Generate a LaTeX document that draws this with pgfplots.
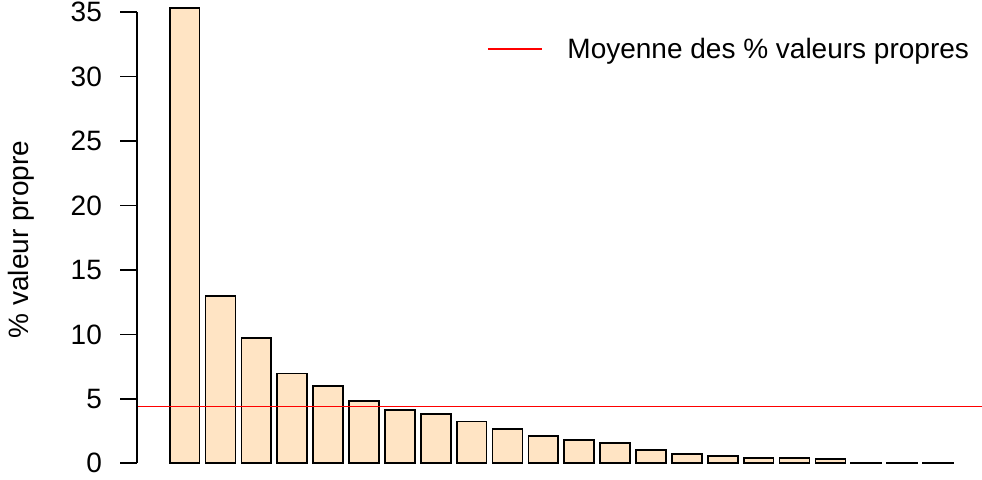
\documentclass[border=0pt]{standalone}
\usepackage{pgfplots}
\pgfplotsset{compat=1.18}
\usepackage{fontspec}
\setmainfont{Liberation Sans}
\definecolor{bisque}{HTML}{FFE4C4}

\begin{document}
\begin{tikzpicture}
\begin{axis}[
    name=ax,
    scale only axis,
    width=633.9pt,
    height=359.25pt,
    xmin=-0.9, xmax=27.37,
    ymin=-1.22, ymax=35.95,
    axis x line=none,
    axis y line*=left,
    y axis line style={draw=none},
    ytick={0,5,10,15,20,25,30,35},
    tick align=outside,
    major tick length=12.5pt,
    tick style={black, line width=1.2pt},
    /pgf/number format/assume math mode=true,
    yticklabel style={font=\fontsize{21}{25}\selectfont, anchor=east, inner sep=0pt, xshift=-13.5pt},
    ylabel={\% valeur propre},
    ylabel style={font=\fontsize{21}{25}\selectfont, at={(axis description cs:-0.1365,0.5)}, anchor=center},
    legend style={draw=none, fill=none, font=\fontsize{21}{25}\selectfont,
        at={(axis cs:10.67,32.15)}, anchor=west},
    legend image code/.code={\draw[#1] (0pt,0pt) -- (40.5pt,0pt); \path[draw=none] (0pt,0pt) -- (57.75pt,0pt);},
    clip=false,
]

% pourcentages des valeurs propres
\addplot[ybar, bar width=1, fill=bisque, draw=black, line width=1.3pt, forget plot] coordinates {
    (0.7,35.33) (1.9,12.99) (3.1,9.70) (4.3,6.97) (5.5,5.99) (6.7,4.82)
    (7.9,4.12) (9.1,3.81) (10.3,3.24) (11.5,2.67) (12.7,2.10) (13.9,1.79)
    (15.1,1.60) (16.3,1.01) (17.5,0.72) (18.7,0.57) (19.9,0.41) (21.1,0.43)
    (22.3,0.31) (23.5,0.03) (24.7,0.03) (25.9,0.03)
};

% moyenne
\addplot[red, line width=1.2pt] coordinates {(-0.9,4.42) (27.37,4.42)};
\addlegendentry{Moyenne des \% valeurs propres}

\draw[black, line width=1.2pt] (axis cs:-0.9,0) -- (axis cs:-0.9,35);
\end{axis}
\pgfresetboundingbox
\path[use as bounding box] ([xshift=-102.6pt]ax.south west) rectangle (ax.north east);
\end{tikzpicture}
\end{document}
